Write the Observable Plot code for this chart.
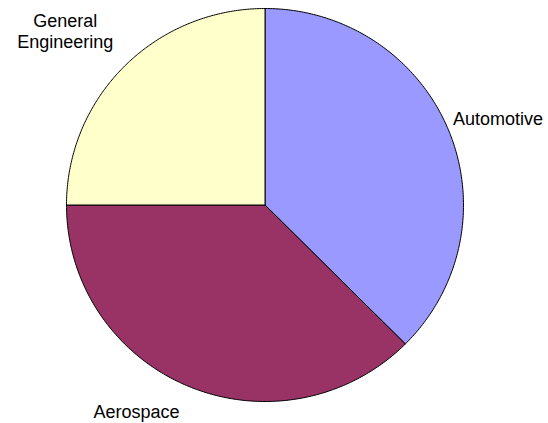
<!DOCTYPE html>
<html>
<head>
<meta charset="utf-8">
<script src="https://cdn.jsdelivr.net/npm/d3@7"></script>
<script src="https://cdn.jsdelivr.net/npm/@observablehq/plot@0.6"></script>
<style>
  html, body { margin: 0; padding: 0; background: #fff; }
  #chart svg { overflow: visible; display: block; }
</style>
</head>
<body>
<div id="chart"></div>
<script>
// Data
const categories = ["Automotive", "Aerospace", "General\nEngineering"];
const shares = [37.5, 37.5, 25];
const colors = ["#9999FF", "#993366", "#FFFFCC"];

// Label layout offsets (pixels) and anchors
const labelDx = [4.5, -9.4, -59.3];
const labelDy = [-11.4, 25, -35.5];
const labelAnchor = ["start", "end", "middle"];

// Build slices from data using d3.pie (clockwise from 12 o'clock)
const pie = d3.pie().sort(null).value(d => d)(shares);
const slices = pie.map((p, i) => {
  const steps = 180;
  const pts = [{x: 0, y: 0, name: categories[i]}];
  for (let k = 0; k <= steps; k++) {
    const a = p.startAngle + (p.endAngle - p.startAngle) * k / steps;
    pts.push({x: Math.sin(a), y: Math.cos(a), name: categories[i]});
  }
  pts.push({x: 0, y: 0, name: categories[i]});
  return pts;
});
const labels = pie.map((p, i) => {
  const m = (p.startAngle + p.endAngle) / 2;
  return {x: Math.sin(m), y: Math.cos(m), name: categories[i], i};
});

const marks = slices.map((pts, i) =>
  Plot.line(pts, {x: "x", y: "y", fill: colors[i], stroke: "#000", strokeWidth: 1, strokeLinejoin: "round"})
);
labels.forEach((l, i) => {
  marks.push(Plot.text([l], {
    x: "x", y: "y", text: "name",
    dx: labelDx[i], dy: labelDy[i],
    textAnchor: labelAnchor[i], lineAnchor: "middle", lineHeight: 1.19,
    fill: "#000", fontSize: 18, fontFamily: "Liberation Sans, Arial, sans-serif"
  }));
});

const chart = Plot.plot({
  width: 548,
  height: 423,
  marginLeft: 66,
  marginRight: 85,
  marginTop: 8,
  marginBottom: 22,
  x: {domain: [-1, 1], axis: null},
  y: {domain: [-1, 1], axis: null},
  style: {background: "#fff", fontFamily: "Liberation Sans, Arial, sans-serif"},
  marks
});
document.getElementById("chart").appendChild(chart);
</script>
</body>
</html>
